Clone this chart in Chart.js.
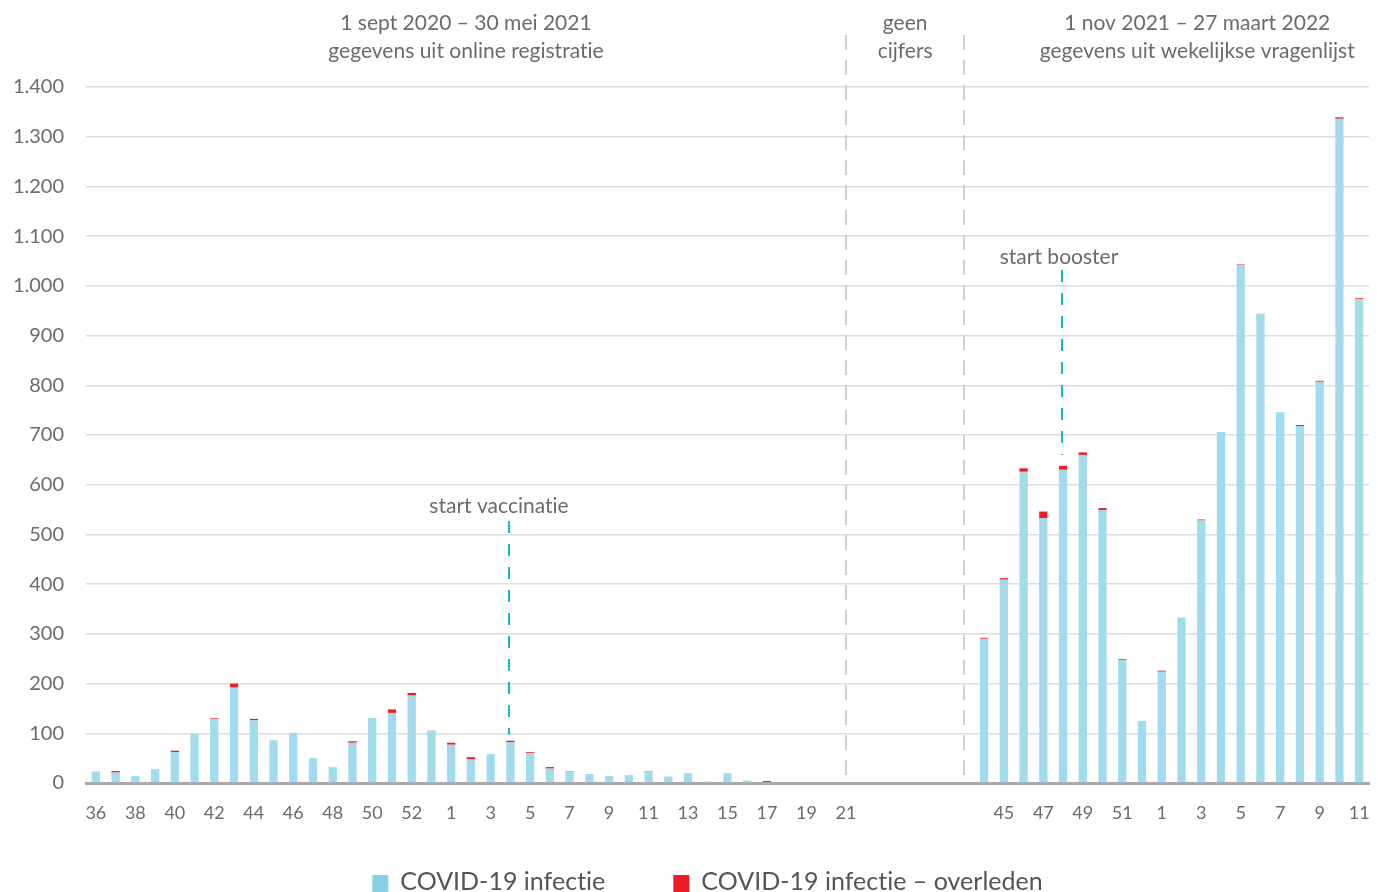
<!DOCTYPE html>
<html><head><meta charset="utf-8">
<script src="https://cdn.jsdelivr.net/npm/chart.js@4.4.0/dist/chart.umd.min.js"></script>
<style>html,body{margin:0;padding:0;background:#fff;} #wrap{width:1379px;height:892px;position:relative;}</style>
</head><body><div id="wrap"><canvas id="c"></canvas></div>
<script>
// Week numbers (x categories); empty strings = period without data
const weekLabels = [
  '36','37','38','39','40','41','42','43','44','45','46','47','48','49','50','51','52','53',
  '1','2','3','4','5','6','7','8','9','10','11','12','13','14','15','16','17','18','19','20','21',
  '','','','','','',
  '44','45','46','47','48','49','50','51','52',
  '1','2','3','4','5','6','7','8','9','10','11'
];
// COVID-19 infectie (excl. overleden)
const infectie = [
  23,21,14,28,62,99,128,192,126,86,101,50,32,81,131,141,176,104,
  77,48,58,82,60,29,23,18,14,16,23,13,20,3,20,5,2,0,0,0,0,
  null,null,null,null,null,null,
  290,409,626,533,630,660,549,247,125,
  224,333,528,706,1042,944,746,718,807,1336,973
];
// COVID-19 infectie – overleden
const overleden = [
  0,3,0,0,3,0,2,8,3,0,0,0,0,3,0,7,5,1,
  4,4,0,3,2,3,1,0,0,0,1,0,0,0,0,0,2,0,0,0,0,
  null,null,null,null,null,null,
  2,3,7,13,8,5,4,2,0,
  2,0,2,0,1,0,0,2,2,3,2
];
const seriesNames = ['COVID-19 infectie', 'COVID-19 infectie \u2013 overleden'];
const yTicks = [0,100,200,300,400,500,600,700,800,900,1000,1100,1200,1300,1400];
const periodTexts = [
  ['1 sept 2020 \u2013 30 mei 2021', 'gegevens uit online registratie'],
  ['geen', 'cijfers'],
  ['1 nov 2021 \u2013 27 maart 2022', 'gegevens uit wekelijkse vragenlijst']
];
const separatorIdx = [38, 44];           // dashed grey period separators
const markers = [                         // start vaccinatie / start booster
  {label:'start vaccinatie', idx:21, from:97, to:527, textVal:557, dx:-10},
  {label:'start booster', idx:49, from:660, to:1032, textVal:1058, dx:-3}
];

const FONT = 'Lato, "Open Sans", sans-serif';
const BLUE = '#a2dbed', BLUE_LEG = '#86d0e6', RED = '#ee1c25';
const fmt = v => String(v).replace(/\B(?=(\d{3})+(?!\d))/g, '.');

const annot = {
  id: 'annot',
  afterDatasetsDraw(chart) {
    const {ctx, chartArea: a, scales: {x, y}} = chart;
    ctx.save();
    // grey separators
    ctx.strokeStyle = '#d0d0d0'; ctx.lineWidth = 2; ctx.setLineDash([15, 10]);
    separatorIdx.forEach(i => {
      const px = Math.round(x.getPixelForValue(i));
      ctx.beginPath(); ctx.moveTo(px, a.top - 52); ctx.lineTo(px, a.bottom); ctx.stroke();
    });
    // teal markers
    ctx.strokeStyle = '#1ab3d8'; ctx.setLineDash([12, 11]);
    ctx.font = '21px ' + FONT; ctx.fillStyle = '#6b6b6b';
    if ('letterSpacing' in ctx) ctx.letterSpacing = '0.01px';
    ctx.textAlign = 'center'; ctx.textBaseline = 'middle';
    markers.forEach(m => {
      const px = Math.round(x.getPixelForValue(m.idx)) - 1;
      ctx.beginPath(); ctx.moveTo(px, y.getPixelForValue(m.to)); ctx.lineTo(px, y.getPixelForValue(m.from)); ctx.stroke();
      ctx.fillText(m.label, px + m.dx, y.getPixelForValue(m.textVal));
    });
    // period headings
    const cx = [
      (a.left + x.getPixelForValue(separatorIdx[0])) / 2,
      (x.getPixelForValue(separatorIdx[0]) + x.getPixelForValue(separatorIdx[1])) / 2,
      x.getPixelForValue(56) - 4
    ];
    periodTexts.forEach((t, k) => {
      ctx.fillText(t[0], cx[k], a.top - 64);
      ctx.fillText(t[1], cx[k], a.top - 36);
    });
    // legend
    ctx.font = '25px ' + FONT; ctx.textAlign = 'left';
    const cols = [BLUE_LEG, RED];
    const w0 = ctx.measureText(seriesNames[0]).width, w1 = ctx.measureText(seriesNames[1]).width;
    const total = 16 + 12 + w0 + 68 + 16 + 12 + w1;
    let lx = chart.width / 2 - total / 2 + 18;
    const ly = 882;
    [w0, w1].forEach((w, k) => {
      ctx.fillStyle = cols[k]; ctx.fillRect(lx, ly - 7, 16, 17);
      ctx.fillStyle = '#555'; ctx.fillText(seriesNames[k], lx + 28, ly);
      lx += 28 + w + 68;
    });
    ctx.restore();
  }
};

new Chart(document.getElementById('c'), {
  type: 'bar',
  data: {
    labels: weekLabels,
    datasets: [
      {label: seriesNames[0], data: infectie, backgroundColor: BLUE, borderWidth: 0},
      {label: seriesNames[1], data: overleden, backgroundColor: RED, borderWidth: 0}
    ]
  },
  options: {
    responsive: true, maintainAspectRatio: false, animation: false,
    layout: {padding: {top: 87, right: 10, left: 0, bottom: 0}},
    datasets: {bar: {categoryPercentage: 1, barPercentage: 0.42}},
    plugins: {legend: {display: false}, tooltip: {enabled: false}},
    scales: {
      x: {
        stacked: true,
        grid: {display: false, drawTicks: false},
        border: {display: true, color: '#a9a9a9', width: 3},
        ticks: {
          autoSkip: false, maxRotation: 0, padding: 19, color: '#6b6b6b',
          font: {family: FONT, size: 18},
          callback: (v, i) => i % 2 === 0 ? weekLabels[i] : ''
        },
        afterFit: s => { s.height = 109; s.paddingLeft = 0; s.paddingRight = 0; }
      },
      y: {
        stacked: true, min: 0, max: 1400,
        afterBuildTicks: s => { s.ticks = yTicks.map(v => ({value: v})); },
        grid: {color: '#dcdcdc', lineWidth: 1.5, drawTicks: false},
        border: {display: false},
        ticks: {padding: 22, color: '#6b6b6b', font: {family: FONT, size: 20}, callback: v => fmt(v)},
        afterFit: s => { s.width = 86; }
      }
    }
  },
  plugins: [annot]
});
</script>
</body></html>
